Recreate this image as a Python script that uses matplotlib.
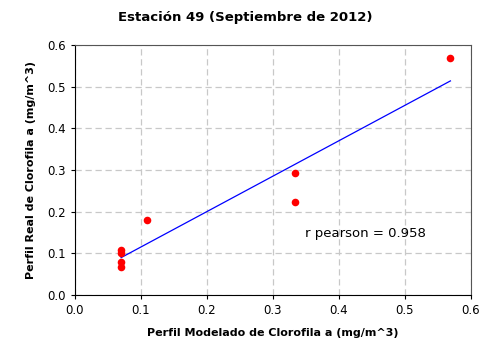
import matplotlib
matplotlib.use("Agg")
import matplotlib.pyplot as plt

# Data
x_model = [0.07, 0.07, 0.07, 0.07, 0.109, 0.333, 0.333, 0.569]
y_real = [0.108, 0.100, 0.080, 0.068, 0.180, 0.292, 0.224, 0.570]
fit_x = [0.07, 0.569]
fit_y = [0.090, 0.514]
r_text = "r pearson = 0.958"
title = "Estación 49 (Septiembre de 2012)"
xlabel = "Perfil Modelado de Clorofila a (mg/m^3)"
ylabel = "Perfil Real de Clorofila a (mg/m^3)"
xticks = [0.0, 0.1, 0.2, 0.3, 0.4, 0.5, 0.6]
yticks = [0.0, 0.1, 0.2, 0.3, 0.4, 0.5, 0.6]

fig = plt.figure(figsize=(4.8, 3.44), dpi=100)
ax = fig.add_axes([0.156, 0.142, 0.825, 0.727])

ax.plot(fit_x, fit_y, color="#0000ff", lw=0.9, zorder=3)
ax.scatter(x_model, y_real, s=30, color="#ff0000", zorder=4, linewidths=0)

ax.set_xlim(0, 0.6)
ax.set_ylim(0, 0.6)
ax.set_xticks(xticks)
ax.set_yticks(yticks)
ax.set_xticklabels([f"{v:.1f}" for v in xticks])
ax.set_yticklabels([f"{v:.1f}" for v in yticks])
ax.tick_params(labelsize=8.5, direction="out", length=3, width=0.8)
ax.grid(True, color="#c8c8c8", linestyle=(0, (5, 3)), lw=0.9)
ax.set_axisbelow(True)
for s in ["top", "right"]:
    ax.spines[s].set_color("#555555")

ax.text(0.348, 0.149, r_text, fontsize=9.5, va="center", ha="left")
fig.text(0.51, 1 - 18 / 344, title, fontsize=9.5, fontweight="bold",
         ha="center", va="center")
ax.set_xlabel(xlabel, fontsize=8, fontweight="bold", labelpad=8)
ax.set_ylabel(ylabel, fontsize=8, fontweight="bold", labelpad=8)

fig.savefig("out.png", dpi=100)
